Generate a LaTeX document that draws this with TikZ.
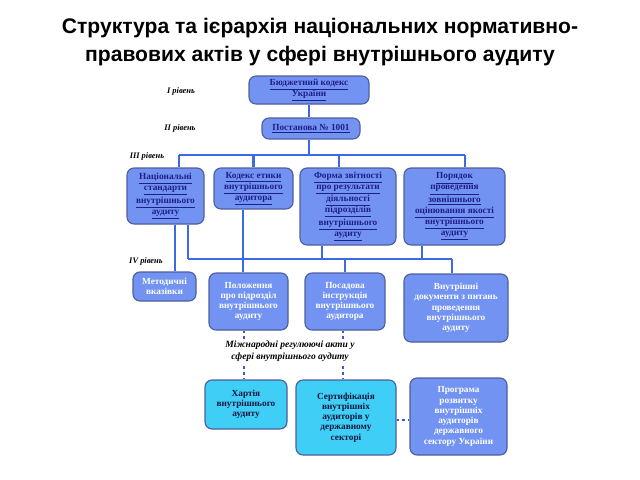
\documentclass[tikz,border=0pt]{standalone}
\usepackage{fontspec}
\setmainfont{Liberation Serif}
\newfontfamily\titlefont{Liberation Sans}
\definecolor{boxblue}{HTML}{7393F2}
\definecolor{boxline}{HTML}{4E5E9E}
\definecolor{cyanbox}{HTML}{3FCFF6}
\definecolor{lineblue}{HTML}{3C6AE6}
\definecolor{dotblue}{HTML}{3A5CC8}
\definecolor{linkblue}{HTML}{1E1E8C}
\definecolor{navytext}{HTML}{14143C}
\newcommand{\lnk}[1]{\underline{#1}}
\tikzset{
  sz/.style 2 args={minimum width=#1*0.025cm, minimum height=#2*0.025cm},
  box/.style={draw=boxline, line width=0.8pt, rounded corners=5pt, fill=boxblue,
    align=center, inner sep=1pt, font=\bfseries\fontsize{6.6}{7.3}\selectfont},
  doc/.style={box, text=linkblue, font=\bfseries\fontsize{6.6}{7.8}\selectfont},
  act/.style={box, text=white},
  intl/.style={box, fill=cyanbox, text=navytext},
  link/.style={draw=lineblue, line width=2pt},
  dots/.style={draw=dotblue, line width=2pt, dash pattern=on 2pt off 2.2pt},
  lvl/.style={font=\bfseries\itshape\fontsize{6}{7}\selectfont},
}
\begin{document}
\begin{tikzpicture}[x={(0.025cm,0)}, y={(0,-0.025cm)}]
  \useasboundingbox (0,0) rectangle (640,480);
  % title
  \node (title) at (320,42) [align=center, font=\titlefont\bfseries\fontsize{15}{19.3}\selectfont]
    {Структура та ієрархія національних нормативно-\\правових актів у сфері внутрішнього аудиту};
  % levels
  \node[lvl] (l1) at (181,91) {I рівень};
  \node[lvl] (l2) at (180,128) {II рівень};
  \node[lvl] (l3) at (147,156) {III рівень};
  \node[lvl] (l4) at (146,261) {IV рівень};
  % coordinates of the buses
  \coordinate (b3) at (309,155);
  \coordinate (b3l) at (179,155);
  \coordinate (b3r) at (465,155);
  \coordinate (b4l) at (188,259);
  \coordinate (b4r) at (452,259);
  % connectors
  \draw[link] (b3l) -- (b3r);
  \draw[link] (b4l) -- (b4r);
  % boxes
  \node[doc, sz={120}{28}] (bk) at (309,90) {\lnk{Бюджетний кодекс}\\\lnk{України}};
  \node[doc, sz={98}{21}] (pst) at (311,128.5) {\lnk{Постанова № 1001}};
  \node[doc, sz={77}{56}] (ns) at (165.5,196) {\lnk{Національні}\\\lnk{стандарти}\\\lnk{внутрішнього}\\\lnk{аудиту}};
  \node[doc, sz={79}{41}] (ke) at (253.5,188.5) {\lnk{Кодекс етики}\\\lnk{внутрішнього}\\\lnk{аудитора}};
  \node[doc, sz={96}{77}] (fz) at (348,206.5) {\lnk{Форма звітності}\\\lnk{про результати}\\\lnk{діяльності}\\\lnk{підрозділів}\\\lnk{внутрішнього}\\\lnk{аудиту}};
  \node[doc, sz={101}{77}] (pp) at (454.5,206.5) {\lnk{Порядок}\\\lnk{проведення}\\\lnk{зовнішнього}\\\lnk{оцінювання якості}\\\lnk{внутрішнього}\\\lnk{аудиту}};
  \node[act, sz={63}{29}] (mv) at (164.5,286.5) {Методичні\\вказівки};
  \node[act, sz={79}{57}] (pl) at (248.5,301.5) {Положення\\про підрозділ\\внутрішнього\\аудиту};
  \node[act, sz={80}{57}] (pi) at (345,301.5) {Посадова\\інструкція\\внутрішнього\\аудитора};
  \node[act, sz={104}{68}] (vd) at (456,308) {Внутрішні\\документи з питань\\проведення\\внутрішнього\\аудиту};
  \node[intl, sz={82}{49}] (ha) at (246,404.5) {Хартія\\внутрішнього\\аудиту};
  \node[intl, sz={100}{75}] (sf) at (346,417.5) {Сертифікація\\внутрішніх\\аудиторів у\\державному\\секторі};
  \node[act, sz={97}{77}] (pr) at (458.5,416.5) {Програма\\розвитку\\внутрішніх\\аудиторів\\державного\\сектору України};
  % level I -- III
  \draw[link] (bk.south -| b3) -- (pst.north -| b3);
  \draw[link] (pst.south -| b3) -- (b3);
  \draw[link] (b3l) -- (ns.north -| b3l);
  \draw[link] (b3 -| ke) -- (ke);
  \draw[link] (b3 -| 339,0) -- (fz.north -| 339,0);
  \draw[link] (b3r) -- (pp.north -| b3r);
  % level III -- IV
  \draw[link] (ns.south -| 175,0) -- (mv.north -| 175,0);
  \draw[link] (ns.south -| b4l) -- (b4l);
  \draw[link] (ke.south -| 243,0) -- (pl.north -| 243,0);
  \draw[link] (fz.south -| 322,0) -- (b4l -| 322,0);
  \draw[link] (b4l -| pi) -- (pi);
  \draw[link] (pp.south -| 422,0) -- (b4l -| 422,0);
  \draw[link] (b4r) -- (vd.north -| b4r);
  % international acts
  \draw[dots] (pl.south -| 244,0) -- (ha.north -| 244,0);
  \draw[dots] (pi.south -| 343,0) -- (sf.north -| 343,0);
  \draw[dots] (sf.east |- 0,420) -- (pr.west |- 0,420);
  \node (mra) at (290,351) [fill=white, align=center, inner sep=1pt, font=\bfseries\itshape\fontsize{6.8}{8.5}\selectfont]
    {Міжнародні регулюючі акти у\\сфері внутрішнього аудиту};
\end{tikzpicture}
\end{document}
